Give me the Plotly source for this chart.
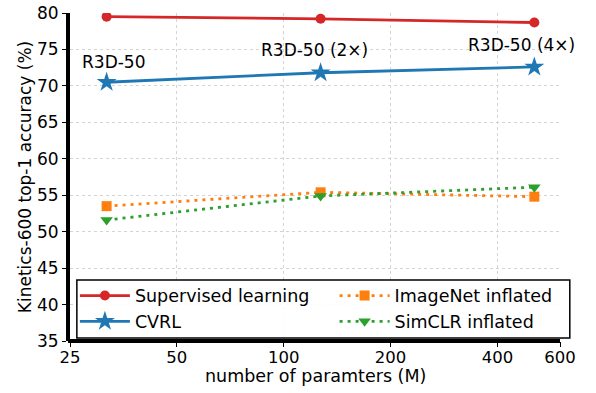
import math
import plotly.graph_objects as go

params = [31.7, 127, 508]
supervised = [79.5, 79.2, 78.7]
cvrl = [70.5, 71.8, 72.6]
imagenet = [53.5, 55.4, 54.8]
simclr = [51.6, 54.9, 56.1]
labels = ["R3D-50", "R3D-50 (2×)", "R3D-50 (4×)"]
label_y = [73.3, 74.9, 75.6]
xticks = [25, 50, 100, 200, 400, 600]
yticks = [35, 40, 45, 50, 55, 60, 65, 70, 75, 80]

FONT = "DejaVu Sans"
DOT = "3px,5px"
fig = go.Figure()
fig.add_trace(go.Scatter(x=params, y=supervised, name="Supervised learning", mode="lines+markers",
                         line=dict(color="#d62728", width=2.8), marker=dict(symbol="circle", size=10),
                         legend="legend"))
fig.add_trace(go.Scatter(x=params, y=cvrl, name="CVRL", mode="lines+markers",
                         line=dict(color="#1f77b4", width=2.8), marker=dict(symbol="star", size=15),
                         legend="legend"))
fig.add_trace(go.Scatter(x=params, y=imagenet, name="ImageNet inflated", mode="lines+markers",
                         line=dict(color="#ff7f0e", width=2.8, dash=DOT), marker=dict(symbol="square", size=10),
                         legend="legend2"))
fig.add_trace(go.Scatter(x=params, y=simclr, name="SimCLR inflated", mode="lines+markers",
                         line=dict(color="#2ca02c", width=2.8, dash=DOT), marker=dict(symbol="triangle-down", size=11),
                         legend="legend2"))

shifts = [7, -6, -13]
for xv, yv, t, s in zip(params, label_y, labels, shifts):
    fig.add_annotation(x=math.log10(xv), y=yv, text=t, showarrow=False, xref="x", yref="y",
                       xshift=s, font=dict(family=FONT, size=17, color="black"))

# x-axis title
fig.add_annotation(x=0.5, y=-0.108, xref="paper", yref="paper", yanchor="middle", showarrow=False,
                   text="number of paramters (M)", font=dict(family=FONT, size=17.5, color="black"))

# thick bottom spine
fig.add_shape(type="line", xref="paper", yref="paper", x0=-0.004, x1=1.0, y0=0, y1=0,
              line=dict(color="black", width=4), layer="above")

fig.add_shape(type="rect", xref="paper", yref="paper", x0=0.014, x1=1.02, y0=0.009, y1=0.186,
              line=dict(color="black", width=1.5), fillcolor="rgba(255,255,255,0.9)", layer="above")

axis_common = dict(ticks="outside", tickcolor="black", showgrid=True, gridcolor="#d4d4d4", griddash="dot",
                   gridwidth=1, zeroline=False, mirror=False, automargin=False, ticklabeloverflow="allow")
fig.update_layout(
    width=596, height=393, plot_bgcolor="white", paper_bgcolor="white",
    margin=dict(l=70, r=36, t=13, b=52, autoexpand=False),
    xaxis=dict(type="log", range=[1.39794, 2.77815], tickvals=xticks, ticktext=[str(v) for v in xticks],
               showline=False, ticklen=5, ticklabelstandoff=-4,
               tickfont=dict(family=FONT, size=16.5, color="black"), **axis_common),
    yaxis=dict(range=[35, 80], tickvals=yticks, showline=True, linecolor="black", linewidth=4, ticklen=4,
               tickfont=dict(family=FONT, size=17, color="black"),
               title=dict(text="Kinetics-600 top-1 accuracy (%)", font=dict(family=FONT, size=17, color="black"), standoff=2),
               **axis_common),
    legend=dict(x=0.01, y=0.193, xanchor="left", yanchor="top", bgcolor="rgba(0,0,0,0)",
                font=dict(family=FONT, size=17.5, color="black"), tracegroupgap=0, itemwidth=50),
    legend2=dict(x=0.54, y=0.193, xanchor="left", yanchor="top", bgcolor="rgba(0,0,0,0)",
                 font=dict(family=FONT, size=17.5, color="black"), tracegroupgap=0, itemwidth=50),
)
fig.write_html("out.html", config={"displayModeBar": False},
               post_script="document.body.style.margin='0px';")
